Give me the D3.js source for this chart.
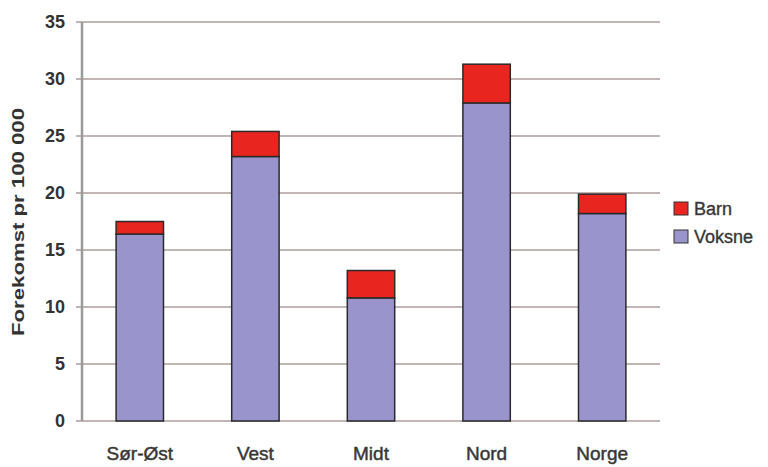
<!DOCTYPE html>
<html>
<head>
<meta charset="utf-8">
<script src="https://cdn.jsdelivr.net/npm/d3@7"></script>
<style>
body { margin: 0; background: #fff; }
text { font-family: "Liberation Sans", Arial, sans-serif; }
</style>
</head>
<body>
<script>
var w = 768, h = 467;

var categories = ["Sør-Øst", "Vest", "Midt", "Nord", "Norge"];
var voksne = [16.4, 23.2, 10.8, 27.9, 18.2];
var barn = [1.1, 2.2, 2.4, 3.4, 1.7];
var yTicks = [0, 5, 10, 15, 20, 25, 30, 35];
var seriesNames = ["Barn", "Voksne"];

var colors = { Voksne: "#9a94cc", Barn: "#e8251f" };

var svg = d3.select("body")
    .append("svg")
    .attr("width", w)
    .attr("height", h);

var x = d3.scaleBand()
    .domain(categories)
    .range([82, 660])
    .paddingInner(0.59)
    .paddingOuter(0.295);

var y = d3.scaleLinear()
    .domain([0, 35])
    .range([421, 22]);

// gridlines
svg.selectAll("line.grid")
    .data(yTicks)
    .enter()
    .append("line")
    .attr("class", "grid")
    .attr("x1", 76)
    .attr("x2", 660)
    .attr("y1", function (d) { return y(d); })
    .attr("y2", function (d) { return y(d); })
    .attr("stroke", "#ad9e9b")
    .attr("stroke-width", 1.5);

// y axis line
svg.append("line")
    .attr("x1", 82).attr("x2", 82)
    .attr("y1", y(35)).attr("y2", y(0))
    .attr("stroke", "#9a9a9a")
    .attr("stroke-width", 2.5);

// tick labels
svg.selectAll("text.ytick")
    .data(yTicks)
    .enter()
    .append("text")
    .attr("class", "ytick")
    .attr("x", 65)
    .attr("y", function (d) { return y(d) + 6; })
    .attr("text-anchor", "end")
    .attr("font-size", 18)
    .attr("font-weight", "bold")
    .attr("fill", "#333")
    .text(function (d) { return d; });

// stacked data
var rows = categories.map(function (c, i) {
    return { cat: c, Voksne: voksne[i], Barn: barn[i] };
});
var stack = d3.stack().keys(["Voksne", "Barn"])(rows);

svg.selectAll("g.layer")
    .data(stack)
    .enter()
    .append("g")
    .attr("class", "layer")
    .attr("fill", function (d) { return colors[d.key]; })
    .selectAll("rect")
    .data(function (d) { return d; })
    .enter()
    .append("rect")
    .attr("x", function (d) { return x(d.data.cat); })
    .attr("y", function (d) { return y(d[1]); })
    .attr("width", x.bandwidth())
    .attr("height", function (d) { return y(d[0]) - y(d[1]); })
    .attr("stroke", "#2a2a2a")
    .attr("stroke-width", 1.5);

// x labels
svg.selectAll("text.xlab")
    .data(categories)
    .enter()
    .append("text")
    .attr("class", "xlab")
    .attr("x", function (d) { return x(d) + x.bandwidth() / 2; })
    .attr("y", 460)
    .attr("text-anchor", "middle")
    .attr("font-size", 19)
    .attr("fill", "#333")
    .attr("stroke", "#444")
    .attr("stroke-width", 0.5)
    .text(function (d) { return d; });

// y label
svg.append("text")
    .attr("transform", "translate(24,222) rotate(-90)")
    .attr("text-anchor", "middle")
    .attr("font-size", 17)
    .attr("font-weight", "bold")
    .attr("fill", "#333")
    .attr("textLength", 228)
    .attr("lengthAdjust", "spacingAndGlyphs")
    .text("Forekomst pr 100 000");

// legend
var leg = svg.selectAll("g.leg")
    .data(seriesNames)
    .enter()
    .append("g")
    .attr("class", "leg")
    .attr("transform", function (d, i) { return "translate(674," + (202 + i * 28) + ")"; });

leg.append("rect")
    .attr("width", 14)
    .attr("height", 13)
    .attr("fill", function (d) { return colors[d]; })
    .attr("stroke", "#333")
    .attr("stroke-width", 1);

leg.append("text")
    .attr("x", 20)
    .attr("y", 13)
    .attr("font-size", 18)
    .attr("fill", "#333")
    .attr("stroke", "#444")
    .attr("stroke-width", 0.4)
    .text(function (d) { return d; });
</script>
</body>
</html>
